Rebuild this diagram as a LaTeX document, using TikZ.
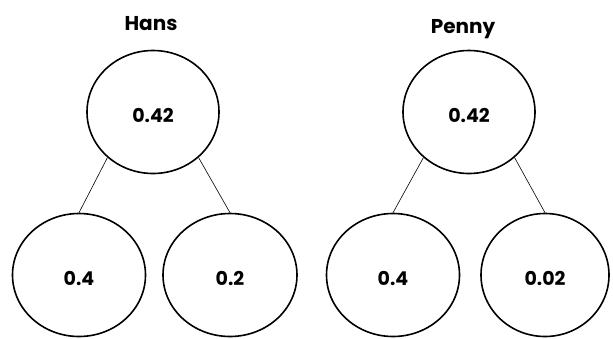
\documentclass[tikz,border=0pt]{standalone}
\usepackage{fontspec}
\setmainfont{Poppins}
\usepackage{tikz}
\usetikzlibrary{positioning,shapes.geometric}

\begin{document}
\begin{tikzpicture}[x=1pt, y=-1pt, prob/.style={draw=black, ellipse, line width=1.6pt, inner sep=0pt, minimum width=132pt, minimum height=123pt, text height=20pt, text depth=0pt, font=\fontsize{19}{22}\selectfont\bfseries}, who/.style={anchor=base, font=\fontsize{20}{24}\selectfont\bfseries}, branch/.style={draw=black, line width=0.6pt}]
\useasboundingbox[fill=white] (0,0) rectangle (613,338);
\node[who] (hans) at (151,30) {Hans};
\node[prob] (h0) at (153,112) {0.42};
\node[prob, minimum width=133pt] (h1) at (79,275) {0.4};
\draw[branch] (h0.-135) -- (h1.north);
\node[prob, minimum width=134pt] (h2) at (230,275) {0.2};
\draw[branch] (h0.-45) -- (h2.north);
\node[who] (penny) at (463,33) {Penny};
\node[prob] (p0) at (469,112) {0.42};
\node[prob, minimum width=133pt] (p1) at (393,275) {0.4};
\draw[branch] (p0.-135) -- (p1.north);
\node[prob, minimum width=128pt] (p2) at (545,275) {0.02};
\draw[branch] (p0.-45) -- (p2.north);
\end{tikzpicture}
\end{document}
